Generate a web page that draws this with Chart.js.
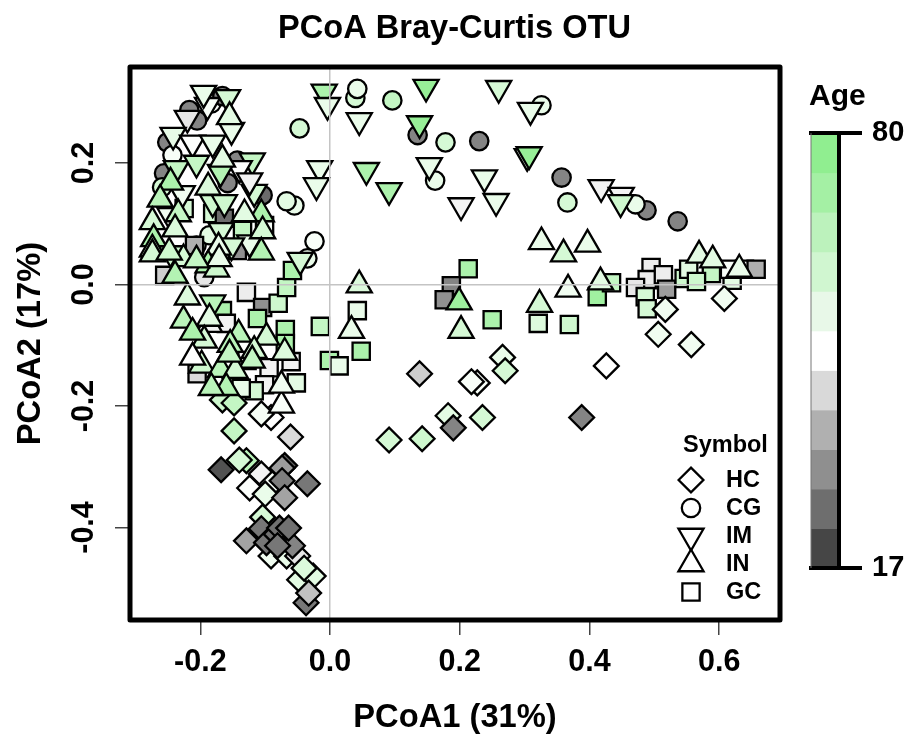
<!DOCTYPE html>
<html>
<head>
<meta charset="utf-8">
<title>PCoA Bray-Curtis OTU</title>
<script src="https://cdn.jsdelivr.net/npm/chart.js@4"></script>
<style>
    html, body { margin: 0; padding: 0; background: #fff; }
    canvas { display: block; }
</style>
</head>
<body>
<canvas id="pcoa" width="909" height="738"></canvas>
<script>
const xTicks = [-0.2, 0, 0.2, 0.4, 0.6];
const yTicks = [-0.4, -0.2, 0, 0.2];
const ageTicks = [17, 80];
const ageBands = ['#464646', '#6e6e6e', '#8f8f8f', '#b0b0b0', '#d9d9d9', '#ffffff', '#e8f8e8', '#d0f6d0', '#bcf2bc', '#a4f0a4', '#90ee90'];
const symbolNames = ['HC', 'CG', 'IM', 'IN', 'GC'];

const hcX = [0.138, 0.227, 0.218, 0.266, 0.270, 0.426, 0.388, 0.235, 0.182, 0.190, 0.142, 0.091, 0.517, 0.506, 0.557, 0.608,
    -0.166, -0.148, -0.091, -0.106, -0.148, -0.061, -0.168, -0.129, -0.140, -0.106, -0.070, -0.074, -0.089, -0.124, -0.100, -0.074, -0.070, -0.035,
    -0.104, -0.091, -0.067, -0.050, -0.106, -0.129, -0.098, -0.058, -0.083, -0.078, -0.064, -0.081, -0.047, -0.026, -0.040, -0.037, -0.033];
const hcY = [-0.147, -0.162, -0.160, -0.120, -0.142, -0.134, -0.219, -0.219, -0.216, -0.236, -0.254, -0.256, -0.041, -0.082, -0.099, -0.023,
    -0.190, -0.195, -0.219, -0.213, -0.241, -0.251, -0.305, -0.290, -0.289, -0.312, -0.298, -0.302, -0.328, -0.335, -0.345, -0.323, -0.351, -0.328,
    -0.383, -0.447, -0.447, -0.447, -0.402, -0.422, -0.425, -0.430, -0.411, -0.401, -0.401, -0.430, -0.486, -0.480, -0.467, -0.524, -0.508];
const hcAge = [40, 50, 50, 54, 60, 48, 28, 60, 56, 28, 62, 60, 52, 52, 52, 52,
    62, 65, 48, 51, 65, 42, 20, 68, 60, 46, 22, 32, 50, 49, 54, 27, 33, 26,
    60, 52, 54, 44, 26, 33, 26, 28, 25, 25, 25, 26, 56, 56, 58, 26, 38];

const cgX = [0.039, 0.042, 0.096, 0.135, 0.178, 0.230, 0.326, 0.162, 0.357, 0.366, 0.488, 0.471, 0.536, -0.047, -0.055, -0.067, -0.024, -0.035,
    -0.217, -0.205, -0.251, -0.243, -0.256, -0.183, -0.166, -0.143, -0.158, -0.259, -0.194, -0.206, -0.186, -0.104];
const cgY = [0.307, 0.322, 0.303, 0.246, 0.234, 0.236, 0.295, 0.171, 0.176, 0.135, 0.122, 0.132, 0.104, 0.257, 0.130, 0.137, 0.071, 0.043,
    0.287, 0.270, 0.234, 0.213, 0.183, 0.298, 0.310, 0.204, 0.167, 0.160, 0.012, 0.064, 0.081, 0.147];
const cgAge = [60, 54, 65, 28, 60, 28, 54, 54, 28, 60, 28, 54, 28, 60, 54, 56, 50, 54,
    28, 28, 28, 50, 28, 50, 28, 28, 28, 60, 44, 60, 56, 24];

const imX = [0.148, 0.260, 0.309, 0.045, 0.138, 0.304, 0.307, 0.056, 0.091, 0.153, 0.238, 0.256, 0.202, 0.418, 0.449, 0.448, -0.009, -0.004, -0.016, -0.021, -0.046,
    -0.189, -0.220, -0.195, -0.158, -0.242, -0.152, -0.212, -0.181, -0.120, -0.140, -0.237, -0.206, -0.169, -0.228, -0.181, -0.163, -0.117, -0.124, -0.247, -0.168, -0.124, -0.152, -0.245, -0.181];
const imY = [0.325, 0.323, 0.287, 0.270, 0.265, 0.211, 0.214, 0.188, 0.155, 0.196, 0.176, 0.137, 0.130, 0.160, 0.147, 0.135, 0.317, 0.295, 0.191, 0.163, 0.040,
    0.295, 0.274, 0.315, 0.308, 0.246, 0.254, 0.233, 0.233, 0.204, 0.191, 0.191, 0.200, 0.185, 0.150, 0.135, 0.135, 0.152, 0.171, 0.114, 0.089, 0.069, 0.064, 0.051, -0.030];
const imAge = [78, 60, 54, 54, 78, 54, 78, 72, 72, 54, 54, 54, 46, 46, 46, 62, 72, 54, 54, 54, 60,
    50, 44, 54, 60, 55, 54, 49, 54, 65, 49, 65, 65, 70, 52, 62, 62, 60, 46, 52, 60, 54, 60, 62, 68];

const gcX = [0.213, 0.187, 0.176, 0.250, 0.042, 0.048, 0.321, 0.369, 0.412, 0.434, 0.495, 0.489, 0.471, 0.514, 0.519, 0.486, 0.489, 0.546, 0.553, 0.588, 0.565, 0.620, 0.616, 0.639, 0.657,
    -0.129, -0.104, -0.080, -0.067, -0.058, -0.112, -0.069, -0.015, -0.001, 0.014, -0.166, -0.160, -0.060, -0.094, -0.205, -0.052, -0.101, -0.117, -0.069, -0.128, -0.137,
    -0.135, -0.181, -0.225, -0.143, -0.209, -0.255, -0.163, -0.101];
const gcY = [0.026, -0.002, -0.025, -0.058, -0.043, -0.110, -0.064, -0.066, -0.020, 0.003, 0.028, 0.008, -0.005, 0.016, -0.008, -0.020, -0.040, 0.010, 0.025, 0.018, 0.005, 0.007, 0.025, 0.025, 0.025,
    -0.013, -0.038, -0.031, -0.005, 0.023, -0.056, -0.074, -0.069, -0.125, -0.134, -0.043, -0.064, -0.127, -0.137, -0.147, -0.162, -0.165, -0.175, -0.097, -0.125, -0.171,
    0.089, 0.117, 0.125, 0.056, 0.064, 0.015, 0.109, 0.097];
const gcAge = [72, 28, 30, 72, 54, 72, 58, 62, 75, 65, 45, 45, 44, 45, 32, 60, 60, 62, 56, 65, 62, 56, 50, 48, 35,
    45, 30, 62, 65, 72, 72, 72, 65, 72, 54, 72, 46, 46, 46, 42, 56, 46, 60, 72, 46, 54,
    65, 60, 60, 30, 35, 40, 24, 50];

const inX = [-0.155, -0.166, -0.246, -0.188, -0.262, -0.106, -0.234, -0.132, -0.274, -0.239, -0.104, -0.272, -0.172, -0.106, -0.274, -0.274, -0.226, -0.188, -0.239, -0.175, -0.171, -0.248, -0.206,
    -0.220, -0.186, -0.186, -0.226, -0.194, -0.212, -0.141, -0.098, -0.154, -0.117, -0.120, -0.070, -0.198, -0.169, -0.146, -0.212, -0.160, -0.183, -0.075, -0.075, -0.155,
    0.045, 0.033, 0.199, 0.202, 0.323, 0.367, 0.417, 0.326, 0.360, 0.397, 0.569, 0.590, 0.631];
const inY = [0.276, 0.206, 0.168, 0.160, 0.140, 0.116, 0.116, 0.116, 0.103, 0.091, 0.088, 0.075, 0.061, 0.053, 0.058, 0.050, 0.042, 0.032, 0.015, 0.025, 0.042, 0.053, 0.040,
    -0.021, -0.066, -0.056, -0.059, -0.092, -0.079, -0.082, -0.087, -0.099, -0.109, -0.125, -0.112, -0.133, -0.140, -0.142, -0.120, -0.170, -0.170, -0.199, -0.166, -0.115,
    -0.001, -0.076, -0.029, -0.076, -0.033, -0.008, 0.004, 0.070, 0.050, 0.066, 0.048, 0.040, 0.025];
const inAge = [56, 56, 72, 58, 68, 72, 65, 56, 60, 58, 60, 72, 54, 70, 60, 60, 60, 72, 70, 62, 54, 62, 65,
    58, 46, 56, 68, 60, 72, 68, 60, 68, 60, 65, 58, 62, 68, 60, 48, 70, 68, 50, 52, 65,
    58, 54, 76, 60, 60, 52, 56, 54, 60, 54, 56, 56, 54];

// age colour: dark grey up to white at 48, white to lightgreen at 80
function ageColor(age) {
    if (age < 48) {
        const g = Math.round(64 + (age - 17) / 31 * 191);
        return `rgb(${g},${g},${g})`;
    }
    const t = (age - 48) / 32;
    return `rgb(${Math.round(255 - t * 111)},${Math.round(255 - t * 17)},${Math.round(255 - t * 111)})`;
}

function toPoints(xs, ys) {
    return xs.map((x, i) => ({ x: x, y: ys[i] }));
}

const outline = 2.3;
const symbolStyles = {
    HC: { pointStyle: 'rectRot', radius: 12.4, rotation: 0 },
    CG: { pointStyle: 'circle', radius: 9.2, rotation: 0 },
    IM: { pointStyle: 'triangle', radius: 14.5, rotation: 180 },
    IN: { pointStyle: 'triangle', radius: 14.5, rotation: 0 },
    GC: { pointStyle: 'rect', radius: 12.2, rotation: 0 }
};

function symbolDataset(name, xs, ys, ages) {
    const s = symbolStyles[name];
    return {
        label: name,
        data: toPoints(xs, ys),
        pointStyle: s.pointStyle,
        pointRadius: s.radius,
        pointRotation: s.rotation,
        pointBackgroundColor: ages.map(ageColor),
        pointBorderColor: '#000',
        pointBorderWidth: outline
    };
}

// frame goes over the points like box() in R
const framePlugin = {
    id: 'frame',
    afterDraw(chart) {
        const a = chart.chartArea;
        const ctx = chart.ctx;
        ctx.save();
        ctx.strokeStyle = '#000';
        ctx.lineWidth = 5;
        ctx.lineJoin = 'round';
        ctx.strokeRect(a.left, a.top, a.right - a.left, a.bottom - a.top);
        ctx.restore();
    }
};

const symbolLegendPlugin = {
    id: 'symbolLegend',
    afterDraw(chart) {
        const ctx = chart.ctx;
        const rows = [480, 508, 536, 564, 592];
        ctx.save();
        ctx.fillStyle = '#000';
        ctx.textBaseline = 'middle';
        ctx.font = 'bold 23.5px "Liberation Sans"';
        ctx.fillText('Symbol', 683, 446);
        symbolNames.forEach((name, i) => {
            const s = symbolStyles[name];
            ctx.fillStyle = '#fff';
            ctx.strokeStyle = '#000';
            ctx.lineWidth = outline;
            Chart.helpers.drawPoint(ctx, { pointStyle: s.pointStyle, radius: s.radius, rotation: s.rotation, borderWidth: outline }, 691, rows[i]);
            ctx.fillStyle = '#000';
            ctx.fillText(name, 726, rows[i] + 1);
        });
        ctx.restore();
    }
};

// colour bar sits on the age scale, the labels 17 and 80 are that scale's ticks
const colorBarPlugin = {
    id: 'colorBar',
    afterDraw(chart) {
        const ctx = chart.ctx;
        const age = chart.scales.age;
        const left = 811, right = 839;
        const top = age.getPixelForValue(ageTicks[1]);
        const bottom = age.getPixelForValue(ageTicks[0]);
        const h = (bottom - top) / ageBands.length;
        ctx.save();
        ageBands.forEach((color, i) => {
            ctx.fillStyle = color;
            ctx.fillRect(left, bottom - (i + 1) * h, right - left, h + 0.5);
        });
        ctx.strokeStyle = '#000';
        ctx.lineWidth = 4;
        ctx.beginPath();
        ctx.moveTo(809, top);
        ctx.lineTo(862, top);
        ctx.moveTo(809, bottom);
        ctx.lineTo(862, bottom);
        ctx.moveTo(right, top);
        ctx.lineTo(right, bottom);
        ctx.stroke();
        ctx.lineWidth = 1;
        ctx.strokeStyle = '#777';
        ctx.beginPath();
        ctx.moveTo(left, top);
        ctx.lineTo(left, bottom);
        ctx.stroke();
        ctx.fillStyle = '#000';
        ctx.textBaseline = 'middle';
        ctx.font = 'bold 30px "Liberation Sans"';
        ctx.fillText('Age', 809, 97);
        ctx.restore();
    }
};

function zeroLine(c) {
    return c.tick && c.tick.value === 0 ? '#c4c4c4' : 'rgba(0,0,0,0)';
}

Chart.defaults.font.family = '"Liberation Sans", Arial, sans-serif';
Chart.defaults.font.weight = 'bold';
Chart.defaults.color = '#000';

// first dataset is painted last, so IN sits on top and CG at the bottom
new Chart(document.getElementById('pcoa').getContext('2d'), {
    type: 'scatter',
    data: {
        datasets: [
            symbolDataset('IN', inX, inY, inAge),
            symbolDataset('HC', hcX, hcY, hcAge),
            symbolDataset('IM', imX, imY, imAge),
            symbolDataset('GC', gcX, gcY, gcAge),
            symbolDataset('CG', cgX, cgY, cgAge)
        ]
    },
    options: {
        responsive: false,
        animation: false,
        scales: {
            x: {
                type: 'linear',
                min: -0.3085,
                max: 0.6938,
                afterBuildTicks(scale) { scale.ticks = xTicks.map(v => ({ value: v })); },
                afterFit(scale) { scale.height = 118; },
                border: { display: false },
                grid: { z: 1, lineWidth: 1.5, color: zeroLine, tickColor: '#444', tickWidth: 1.5, tickLength: 15 },
                ticks: {
                    autoSkip: false,
                    maxRotation: 0,
                    padding: 9,
                    font: { size: 30.5, weight: 'bold' },
                    callback: v => v.toFixed(1)
                },
                title: {
                    display: true,
                    text: 'PCoA1 (31%)',
                    padding: { top: 0, bottom: 0 },
                    font: { size: 32.7, weight: 'bold' }
                }
            },
            y: {
                type: 'linear',
                min: -0.5523,
                max: 0.3578,
                afterBuildTicks(scale) { scale.ticks = yTicks.map(v => ({ value: v })); },
                afterFit(scale) { scale.width = 130; },
                border: { display: false },
                grid: { z: 1, lineWidth: 1.5, color: zeroLine, tickColor: '#444', tickWidth: 1.5, tickLength: 15 },
                ticks: {
                    autoSkip: false,
                    minRotation: 90,
                    maxRotation: 90,
                    crossAlign: 'center',
                    padding: 4,
                    font: { size: 30.5, weight: 'bold' },
                    callback: v => v.toFixed(1)
                },
                title: {
                    display: true,
                    text: 'PCoA2 (17%)',
                    padding: { top: 11, bottom: 0 },
                    font: { size: 32.7, weight: 'bold' }
                }
            },
            age: {
                type: 'linear',
                axis: 'y',
                position: 'right',
                min: 9.47,
                max: 89.56,
                afterBuildTicks(scale) { scale.ticks = ageTicks.map(v => ({ value: v })); },
                afterFit(scale) {
                    // tick padding is only meant to push the labels sideways
                    scale.width = 129;
                    scale.paddingTop = 0;
                    scale.paddingBottom = 0;
                },
                border: { display: false },
                grid: { drawOnChartArea: false, drawTicks: false },
                ticks: {
                    autoSkip: false,
                    padding: 92,
                    font: { size: 29, weight: 'bold' }
                }
            }
        },
        plugins: {
            legend: { display: false },
            tooltip: { enabled: false },
            title: {
                display: true,
                text: 'PCoA Bray-Curtis OTU',
                padding: { top: 9, bottom: 19 },
                font: { size: 32.6, weight: 'bold' }
            }
        }
    },
    plugins: [framePlugin, symbolLegendPlugin, colorBarPlugin]
});
</script>
</body>
</html>
